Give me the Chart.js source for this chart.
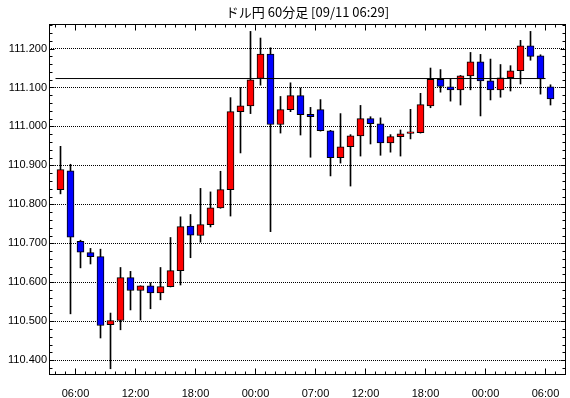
<!DOCTYPE html>
<html>
<head>
<meta charset="utf-8">
<script src="https://cdn.jsdelivr.net/npm/chart.js@4"></script>
<style>
  html, body { margin: 0; padding: 0; background: #fff; }
  canvas { display: block; }
</style>
</head>
<body>
<canvas id="chart" width="570" height="398"></canvas>
<script>
// 60分足 (ドル円) - 各ローソク足の開始時刻
const times = [
  '04:00', '05:00', '06:00', '07:00', '08:00', '09:00', '10:00', '11:00', '12:00', '13:00',
  '14:00', '15:00', '16:00', '17:00', '18:00', '19:00', '20:00', '21:00', '22:00', '23:00',
  '00:00', '01:00', '02:00', '03:00', '04:00', '05:00',
  '07:00', '08:00', '09:00', '10:00', '11:00', '12:00', '13:00', '14:00', '15:00', '16:00',
  '17:00', '18:00', '19:00', '20:00', '21:00', '22:00', '23:00',
  '00:00', '01:00', '02:00', '03:00', '04:00', '05:00', '06:00'
];

const opens = [
  110.838, 110.886, 110.705, 110.676, 110.666, 110.491, 110.502, 110.612, 110.579, 110.591,
  110.573, 110.589, 110.630, 110.744, 110.720, 110.748, 110.791, 110.838, 111.038, 111.053,
  111.123, 111.186, 111.005, 111.043, 111.079, 111.031,
  111.043, 110.989, 110.920, 110.948, 110.976, 111.020, 111.007, 110.958, 110.974, 110.982,
  110.984, 111.053, 111.121, 111.102, 111.094, 111.130, 111.166,
  111.117, 111.094, 111.125, 111.143, 111.207, 111.181, 111.102
];
const highs = [
  110.949, 110.903, 110.708, 110.687, 110.685, 110.521, 110.638, 110.628, 110.591, 110.599,
  110.638, 110.715, 110.768, 110.774, 110.841, 110.832, 110.885, 111.074, 111.100, 111.244,
  111.227, 111.202, 111.077, 111.112, 111.099, 111.049,
  111.069, 110.990, 111.033, 110.979, 111.054, 111.025, 111.022, 110.979, 110.991, 111.044,
  111.085, 111.150, 111.146, 111.123, 111.131, 111.190, 111.185,
  111.173, 111.159, 111.156, 111.221, 111.244, 111.184, 111.107
];
const lows = [
  110.827, 110.519, 110.637, 110.647, 110.457, 110.378, 110.478, 110.529, 110.503, 110.532,
  110.555, 110.588, 110.593, 110.663, 110.703, 110.742, 110.790, 110.770, 110.932, 111.033,
  111.106, 110.730, 110.983, 111.038, 110.978, 110.921,
  110.988, 110.873, 110.906, 110.847, 110.924, 110.955, 110.926, 110.934, 110.924, 110.968,
  110.983, 111.048, 111.088, 111.065, 111.055, 111.094, 111.027,
  111.068, 111.075, 111.091, 111.109, 111.170, 111.083, 111.055
];
const closes = [
  110.889, 110.716, 110.677, 110.666, 110.489, 110.502, 110.612, 110.579, 110.591, 110.573,
  110.589, 110.630, 110.743, 110.721, 110.748, 110.791, 110.838, 111.038, 111.053, 111.120,
  111.186, 111.005, 111.043, 111.079, 111.030, 111.025,
  110.989, 110.920, 110.948, 110.976, 111.020, 111.007, 110.958, 110.974, 110.981, 110.986,
  111.056, 111.121, 111.103, 111.094, 111.130, 111.166, 111.117,
  111.094, 111.125, 111.143, 111.207, 111.180, 111.122, 111.071
];

// 目盛ラベルを付けるローソク足
const tickIndex = [2, 8, 14, 20, 26, 31, 37, 43, 49];

// 水平線 (基準レート)
const refLevel = 111.123;
const refFrom = 0, refTo = 48;

const titleText = 'ドル円 60分足 [09/11 06:29]';
const tickFont = { family: '"Liberation Sans", Arial, sans-serif', size: 11 };

// 枠と内向きの目盛
const frameTicks = {
  id: 'frameTicks',
  afterDraw(chart) {
    const { ctx, chartArea: a, scales: { x, y } } = chart;
    const L = Math.round(a.left) + 0.5, R = Math.round(a.right) - 0.5;
    const T = Math.round(a.top) + 0.5, B = Math.round(a.bottom) - 0.5;
    ctx.save();
    ctx.strokeStyle = '#000';
    ctx.lineWidth = 1;
    ctx.strokeRect(L, T, R - L, B - T);
    ctx.beginPath();
    for (let i = -1; i < times.length; i++) {
      const px = Math.floor(x.getPixelForValue(i + 0.5)) + 0.5;
      if (px <= L || px >= R) continue;
      const len = tickIndex.includes(i + 1) ? 6 : 3;
      ctx.moveTo(px, T); ctx.lineTo(px, T + len);
      ctx.moveTo(px, B); ctx.lineTo(px, B - len);
    }
    for (let k = 0; ; k++) {
      const v = 110.38 + k * 0.02;
      if (v > y.max) break;
      const py = Math.round(y.getPixelForValue(v)) + 0.5;
      const len = k % 5 === 1 ? 5 : 3;
      ctx.moveTo(L, py); ctx.lineTo(L + len, py);
      ctx.moveTo(R, py); ctx.lineTo(R - len, py);
    }
    ctx.stroke();
    ctx.restore();
  }
};

const ctx = document.getElementById('chart').getContext('2d');

new Chart(ctx, {
  type: 'bar',
  data: {
    datasets: [
      {
        type: 'line',
        data: [{ x: refFrom - 0.5, y: refLevel }, { x: refTo + 0.5, y: refLevel }],
        borderColor: '#000',
        borderWidth: 1,
        pointRadius: 0,
        order: 0
      },
      {
        data: times.map((t, i) => ({ x: i, y: [opens[i], closes[i]] })),
        backgroundColor: times.map((t, i) => closes[i] >= opens[i] ? '#ff0000' : '#0000ff'),
        borderColor: '#000',
        borderWidth: 1,
        borderSkipped: false,
        barThickness: 7,
        grouped: false,
        order: 1
      },
      {
        data: times.map((t, i) => ({ x: i, y: [lows[i], highs[i]] })),
        backgroundColor: '#000',
        borderWidth: 0,
        barThickness: 1,
        grouped: false,
        order: 2
      }
    ]
  },
  options: {
    responsive: false,
    animation: false,
    devicePixelRatio: 1,
    layout: { padding: { right: 4 } },
    plugins: {
      legend: { display: false },
      tooltip: { enabled: false },
      title: {
        display: true,
        text: titleText,
        color: '#000',
        fullSize: false,
        font: { family: '"Noto Sans CJK JP", sans-serif', size: 13, weight: 'normal', lineHeight: 1.2 },
        padding: { top: 4.4, bottom: 4 }
      }
    },
    scales: {
      x: {
        type: 'linear',
        min: -1.15,
        max: 50.55,
        offset: false,
        grid: { display: false },
        border: { display: false },
        afterBuildTicks: s => { s.ticks = tickIndex.map(i => ({ value: i - 0.5 })); },
        afterFit: s => { s.height = 23; },
        ticks: {
          autoSkip: false,
          maxRotation: 0,
          padding: 4,
          color: '#000',
          font: tickFont,
          callback: v => times[Math.round(v + 0.5)]
        }
      },
      y: {
        min: 110.362,
        max: 111.263,
        grid: { color: '#000', lineWidth: 1, drawTicks: false },
        border: { display: false, dash: [1, 1] },
        afterFit: s => { s.width = 49; },
        ticks: {
          stepSize: 0.1,
          includeBounds: false,
          padding: 2,
          color: '#000',
          font: tickFont,
          callback: v => v.toFixed(3)
        }
      }
    }
  },
  plugins: [frameTicks]
});
</script>
</body>
</html>
